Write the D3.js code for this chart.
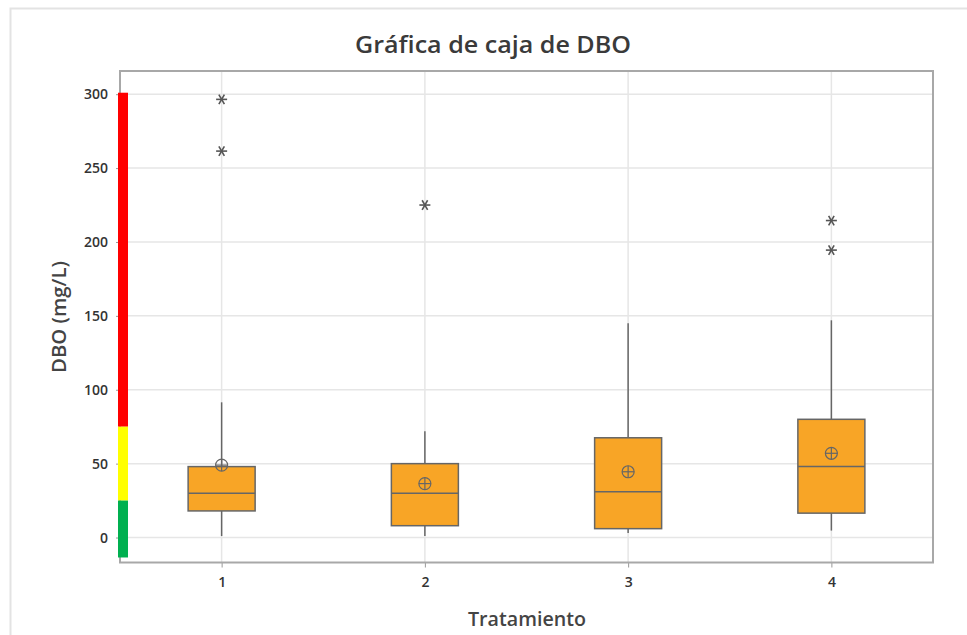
<!DOCTYPE html>
<html>
<head>
<meta charset="utf-8">
<script src="https://cdn.jsdelivr.net/npm/d3@7"></script>
<style>
  html, body { margin: 0; padding: 0; background: #fff; }
  svg { display: block; font-family: "Open Sans", "Noto Sans", sans-serif; }
</style>
</head>
<body>
<svg id="chart" width="967" height="635"></svg>
<script>
// Treatment groups and box-plot statistics of DBO (mg/L)
const categories = [1, 2, 3, 4];
const q1 = [18, 8, 6, 16.5];
const medians = [30, 30, 31, 48];
const q3 = [48, 50, 67.5, 80];
const whiskerLow = [1, 1, 3, 4.7];
const whiskerHigh = [91.5, 72, 145, 147];
const means = [49, 36.5, 44.5, 57];
const outliers = [[296.5, 261.5], [225], [], [214.5, 194.5]];

// Quality bands drawn beside the y axis
const bandFrom = [75, 25, -13.5];
const bandTo = [301, 75, 25];
const bandColors = ["#ff0000", "#ffff00", "#00b050"];

const yTicks = [0, 50, 100, 150, 200, 250, 300];

(function draw() {
  const svg = d3.select("#chart");
  const pLeft = 120, pRight = 933, pTop = 71, pBottom = 562.5;

  const x = d3.scaleLinear().domain([0.5, 4.5]).range([pLeft, pRight]);
  const y = d3.scaleLinear().domain([-16.9, 315.7]).range([pBottom, pTop]);

  // outer light border
  svg.append("rect").attr("x", 10.5).attr("y", 8.5).attr("width", 1000).attr("height", 700)
    .attr("fill", "none").attr("stroke", "#e3e3e3").attr("stroke-width", 2);

  // title
  svg.append("text").attr("x", 493).attr("y", 53).attr("text-anchor", "middle")
    .attr("font-size", 24).attr("font-weight", 600).attr("fill", "#3a3a3a")
    .attr("textLength", 276).attr("lengthAdjust", "spacingAndGlyphs")
    .text("Gráfica de caja de DBO");

  // gridlines
  const grid = svg.append("g");
  grid.selectAll("line.h").data(yTicks).join("line").attr("class", "h")
    .attr("x1", pLeft).attr("x2", pRight)
    .attr("y1", d => y(d)).attr("y2", d => y(d))
    .attr("stroke", "#e6e6e6").attr("stroke-width", 1.5);
  grid.selectAll("line.v").data(categories).join("line").attr("class", "v")
    .attr("y1", pTop).attr("y2", pBottom)
    .attr("x1", d => x(d)).attr("x2", d => x(d))
    .attr("stroke", "#e6e6e6").attr("stroke-width", 1.5);

  // axes
  const yAxis = svg.append("g").attr("transform", `translate(${pLeft},0)`)
    .call(d3.axisLeft(y).tickValues(yTicks).tickSize(4).tickPadding(8));
  const xAxis = svg.append("g").attr("transform", `translate(0,${pBottom})`)
    .call(d3.axisBottom(x).tickValues(categories).tickFormat(d3.format("d")).tickSize(5).tickPadding(10));
  [yAxis, xAxis].forEach(a => {
    a.select(".domain").remove();
    a.selectAll("line").attr("stroke", "#999");
    a.selectAll("text").attr("font-size", 14).attr("font-weight", 600).attr("fill", "#333")
      .attr("font-family", "'Open Sans', sans-serif");
  });

  // plot frame
  svg.append("rect").attr("x", pLeft).attr("y", pTop).attr("width", pRight - pLeft).attr("height", pBottom - pTop)
    .attr("fill", "none").attr("stroke", "#a8a8a8").attr("stroke-width", 2);

  // axis titles
  svg.append("text").attr("x", 527).attr("y", 626).attr("text-anchor", "middle")
    .attr("font-size", 19).attr("font-weight", 600).attr("fill", "#444")
    .attr("textLength", 118).attr("lengthAdjust", "spacingAndGlyphs").text("Tratamiento");
  svg.append("text").attr("transform", `translate(66,317) rotate(-90)`).attr("text-anchor", "middle")
    .attr("font-size", 19).attr("font-weight", 600).attr("fill", "#444")
    .attr("textLength", 112).attr("lengthAdjust", "spacingAndGlyphs").text("DBO (mg/L)");

  // quality bands
  svg.append("g").selectAll("rect").data(bandColors).join("rect")
    .attr("x", 118).attr("width", 10)
    .attr("y", (c, i) => y(bandTo[i]))
    .attr("height", (c, i) => y(bandFrom[i]) - y(bandTo[i]))
    .attr("fill", c => c);

  // boxes
  const boxW = 67;
  const stroke = "#666";
  const g = svg.append("g");
  categories.forEach((c, i) => {
    const cx = x(c);
    g.append("line").attr("x1", cx).attr("x2", cx)
      .attr("y1", y(q3[i])).attr("y2", y(whiskerHigh[i])).attr("stroke", stroke).attr("stroke-width", 1.5);
    g.append("line").attr("x1", cx).attr("x2", cx)
      .attr("y1", y(q1[i])).attr("y2", y(whiskerLow[i])).attr("stroke", stroke).attr("stroke-width", 1.5);
    g.append("rect").attr("x", cx - boxW / 2).attr("width", boxW)
      .attr("y", y(q3[i])).attr("height", y(q1[i]) - y(q3[i]))
      .attr("fill", "#f8a526").attr("stroke", stroke).attr("stroke-width", 1.5);
    g.append("line").attr("x1", cx - boxW / 2).attr("x2", cx + boxW / 2)
      .attr("y1", y(medians[i])).attr("y2", y(medians[i])).attr("stroke", stroke).attr("stroke-width", 1.5);
    // mean symbol: circle with cross
    const my = y(means[i]);
    g.append("circle").attr("cx", cx).attr("cy", my).attr("r", 6)
      .attr("fill", "none").attr("stroke", stroke).attr("stroke-width", 1.2);
    g.append("line").attr("x1", cx - 6).attr("x2", cx + 6).attr("y1", my).attr("y2", my)
      .attr("stroke", stroke).attr("stroke-width", 1.2);
    g.append("line").attr("x1", cx).attr("x2", cx).attr("y1", my - 6).attr("y2", my + 6)
      .attr("stroke", stroke).attr("stroke-width", 1.2);
    // outliers drawn as asterisks
    outliers[i].forEach(v => {
      const oy = y(v);
      [0, 60, 120].forEach(a => {
        const r = 5.5, rad = a * Math.PI / 180;
        g.append("line")
          .attr("x1", cx - r * Math.cos(rad)).attr("x2", cx + r * Math.cos(rad))
          .attr("y1", oy - r * Math.sin(rad)).attr("y2", oy + r * Math.sin(rad))
          .attr("stroke", "#555").attr("stroke-width", 1.6);
      });
    });
  });
})();
</script>
</body>
</html>
